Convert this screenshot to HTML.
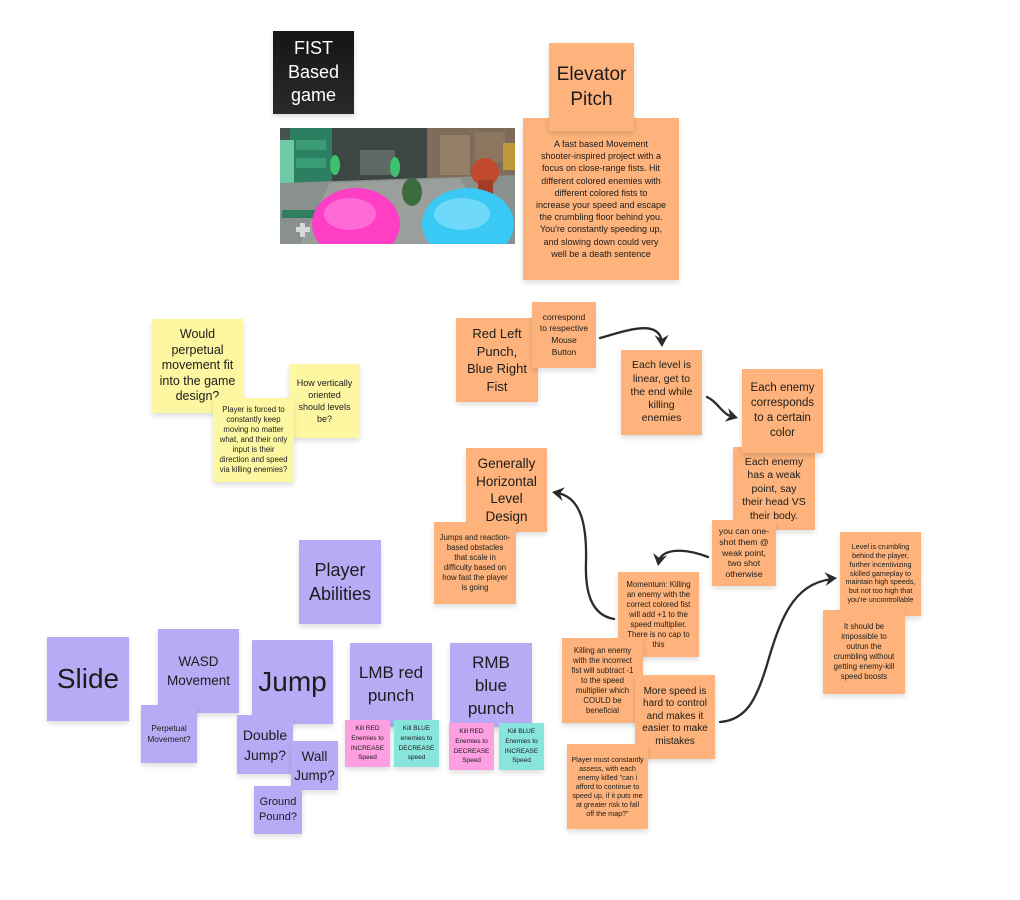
<!DOCTYPE html>
<html><head><meta charset="utf-8"><style>
html,body{margin:0;padding:0;background:#fff;}
body{width:1020px;height:900px;position:relative;overflow:hidden;font-family:"Liberation Sans",sans-serif;color:#1c1c1c;}
.n{position:absolute;display:flex;align-items:center;justify-content:center;text-align:center;box-shadow:0 3px 5px rgba(0,0,0,0.13);box-sizing:border-box;}
.o{background:#fdb37b;}
.y{background:#fef7a2;}
.p{background:#b8abf5;}
.k{background:#fd9fe0;}
.t{background:#88e5dc;}
svg{position:absolute;left:0;top:0;}
</style></head><body>

<!-- FIST -->
<div class="n" style="left:273px;top:31px;width:81px;height:83px;background:linear-gradient(#151515,#2a2a2a);color:#fff;font-size:18px;line-height:23.5px;">FIST<br>Based<br>game</div>

<!-- image -->
<svg width="1020" height="900" style="pointer-events:none">
<defs><clipPath id="ic"><rect x="280" y="128" width="235" height="116"/></clipPath></defs>
<g clip-path="url(#ic)">
<rect x="280" y="128" width="235" height="116" fill="#48524e"/>
<rect x="330" y="128" width="100" height="55" fill="#3c4743"/>
<rect x="427" y="128" width="88" height="55" fill="#7d6c5a"/>
<rect x="440" y="135" width="30" height="40" fill="#957f66"/>
<rect x="475" y="132" width="30" height="30" fill="#8c765f"/>
<rect x="503" y="143" width="12" height="27" fill="#c09a38"/>
<rect x="290" y="128" width="42" height="55" fill="#2d7f62"/>
<rect x="296" y="140" width="30" height="10" fill="#3a9c77"/>
<rect x="296" y="158" width="30" height="10" fill="#3a9c77"/>
<rect x="280" y="140" width="14" height="50" fill="#6fc9a5"/>
<rect x="360" y="150" width="35" height="25" fill="#5e6864"/>
<polygon points="280,183 515,175 515,244 280,244" fill="#8a908d"/>
<polygon points="330,183 460,178 500,244 300,244" fill="#9a9f9c"/>
<rect x="282" y="210" width="40" height="8" fill="#2f7e5f"/>
<ellipse cx="335" cy="165" rx="5" ry="10" fill="#3fbf70"/>
<ellipse cx="395" cy="167" rx="5" ry="10" fill="#3fbf70"/>
<ellipse cx="412" cy="192" rx="10" ry="14" fill="#3c6b3e"/>
<ellipse cx="485" cy="172" rx="14" ry="14" fill="#c24a2c"/>
<rect x="478" y="180" width="15" height="20" fill="#a33d25"/>
<ellipse cx="356" cy="224" rx="44" ry="36" fill="#ff3ec6"/>
<ellipse cx="350" cy="214" rx="26" ry="16" fill="#ff6ad6"/>
<ellipse cx="468" cy="224" rx="46" ry="36" fill="#3ac8f4"/>
<ellipse cx="462" cy="214" rx="28" ry="16" fill="#6fd9fb"/>
<rect x="296" y="227" width="14" height="5" fill="#d8d8d8"/>
<rect x="300" y="223" width="5" height="14" fill="#d8d8d8"/>
</g>
</svg>

<!-- Elevator pitch -->
<div class="n o" style="left:523px;top:118px;width:156px;height:162px;font-size:9px;line-height:12.2px;">A fast based Movement<br>shooter-inspired project with a<br>focus on close-range fists. Hit<br>different colored enemies with<br>different colored fists to<br>increase your speed and escape<br>the crumbling floor behind you.<br>You're constantly speeding up,<br>and slowing down could very<br>well be a death sentence</div>
<div class="n o" style="left:549px;top:43px;width:85px;height:88px;font-size:19px;line-height:25px;">Elevator<br>Pitch</div>

<!-- Yellow -->
<div class="n y" style="left:152px;top:319px;width:91px;height:94px;font-size:12.5px;line-height:15.4px;">Would<br>perpetual<br>movement fit<br>into the game<br>design?</div>
<div class="n y" style="left:289px;top:364px;width:71px;height:74px;font-size:9px;line-height:12px;">How vertically<br>oriented<br>should levels<br>be?</div>
<div class="n y" style="left:213px;top:398px;width:81px;height:84px;font-size:7.8px;line-height:10px;">Player is forced to<br>constantly keep<br>moving no matter<br>what, and their only<br>input is their<br>direction and speed<br>via killing enemies?</div>

<!-- Orange middle -->
<div class="n o" style="left:456px;top:318px;width:82px;height:84px;font-size:13px;line-height:17.5px;">Red Left<br>Punch,<br>Blue Right<br>Fist</div>
<div class="n o" style="left:532px;top:302px;width:64px;height:66px;font-size:8.5px;line-height:11.7px;">correspond<br>to respective<br>Mouse<br>Button</div>
<div class="n o" style="left:621px;top:350px;width:81px;height:85px;font-size:10.5px;line-height:13.3px;">Each level is<br>linear, get to<br>the end while<br>killing<br>enemies</div>
<div class="n o" style="left:733px;top:447px;width:82px;height:83px;font-size:10.5px;line-height:13.5px;padding-top:2px;">Each enemy<br>has a weak<br>point, say<br>their head VS<br>their body.</div>
<div class="n o" style="left:742px;top:369px;width:81px;height:84px;font-size:11.5px;line-height:14.8px;">Each enemy<br>corresponds<br>to a certain<br>color</div>
<div class="n o" style="left:712px;top:520px;width:64px;height:66px;font-size:8.7px;line-height:10.7px;">you can one-<br>shot them @<br>weak point,<br>two shot<br>otherwise</div>
<div class="n o" style="left:466px;top:448px;width:81px;height:84px;font-size:13.5px;line-height:17.5px;">Generally<br>Horizontal<br>Level<br>Design</div>
<div class="n o" style="left:434px;top:522px;width:82px;height:82px;font-size:7.8px;line-height:10px;">Jumps and reaction-<br>based obstacles<br>that scale in<br>difficulty based on<br>how fast the player<br>is going</div>

<!-- Orange lower -->
<div class="n o" style="left:618px;top:572px;width:81px;height:85px;font-size:7.8px;line-height:10px;">Momentum: Killing<br>an enemy with the<br>correct colored fist<br>will add +1 to the<br>speed multiplier.<br>There is no cap to<br>this</div>
<div class="n o" style="left:562px;top:638px;width:81px;height:85px;font-size:7.8px;line-height:10px;">Killing an enemy<br>with the incorrect<br>fist will subtract -1<br>to the speed<br>multiplier which<br>COULD be<br>beneficial</div>
<div class="n o" style="left:635px;top:675px;width:80px;height:84px;font-size:10px;line-height:12.5px;">More speed is<br>hard to control<br>and makes it<br>easier to make<br>mistakes</div>
<div class="n o" style="left:567px;top:744px;width:81px;height:85px;font-size:7.2px;line-height:9px;">Player must constantly<br>assess, with each<br>enemy killed "can i<br>afford to continue to<br>speed up, if it puts me<br>at greater risk to fall<br>off the map?"</div>
<div class="n o" style="left:840px;top:532px;width:81px;height:84px;font-size:7.2px;line-height:8.9px;">Level is crumbling<br>behind the player,<br>further incentivizing<br>skilled gameplay to<br>maintain high speeds,<br>but not too high that<br>you're uncontrollable</div>
<div class="n o" style="left:823px;top:610px;width:82px;height:84px;font-size:7.8px;line-height:10px;">It should be<br>impossible to<br>outrun the<br>crumbling without<br>getting enemy-kill<br>speed boosts</div>

<!-- Purple -->
<div class="n p" style="left:299px;top:540px;width:82px;height:84px;font-size:18px;line-height:24px;">Player<br>Abilities</div>
<div class="n p" style="left:47px;top:637px;width:82px;height:84px;font-size:28px;">Slide</div>
<div class="n p" style="left:158px;top:629px;width:81px;height:84px;font-size:13.5px;line-height:19px;">WASD<br>Movement</div>
<div class="n p" style="left:141px;top:705px;width:56px;height:58px;font-size:8.3px;line-height:10.7px;">Perpetual<br>Movement?</div>
<div class="n p" style="left:252px;top:640px;width:81px;height:84px;font-size:28px;">Jump</div>
<div class="n p" style="left:237px;top:715px;width:56px;height:59px;font-size:14px;line-height:20px;">Double<br>Jump?</div>
<div class="n p" style="left:291px;top:741px;width:47px;height:49px;font-size:13.5px;line-height:19px;">Wall<br>Jump?</div>
<div class="n p" style="left:254px;top:786px;width:48px;height:48px;font-size:11px;line-height:15px;">Ground<br>Pound?</div>
<div class="n p" style="left:350px;top:643px;width:82px;height:84px;font-size:17px;line-height:22.7px;">LMB red<br>punch</div>
<div class="n p" style="left:450px;top:643px;width:82px;height:84px;font-size:17px;line-height:23px;">RMB<br>blue<br>punch</div>
<div class="n k" style="left:345px;top:720px;width:45px;height:47px;font-size:6.5px;line-height:9.6px;">Kill RED<br>Enemies to<br>INCREASE<br>Speed</div>
<div class="n t" style="left:394px;top:720px;width:45px;height:47px;font-size:6.5px;line-height:9.6px;">Kill BLUE<br>enemies to<br>DECREASE<br>speed</div>
<div class="n k" style="left:449px;top:723px;width:45px;height:47px;font-size:6.5px;line-height:9.6px;">Kill RED<br>Enemies to<br>DECREASE<br>Speed</div>
<div class="n t" style="left:499px;top:723px;width:45px;height:47px;font-size:6.5px;line-height:9.6px;">Kill BLUE<br>Enemies to<br>INCREASE<br>Speed</div>

<!-- connectors -->
<svg width="1020" height="900">
<g fill="none" stroke="#2b2b2b" stroke-width="2.3" stroke-linecap="round">
<path d="M600 338 C 625 331, 655 320, 661 338"/>
<path d="M707 397 C 716 401, 721 411, 728 415 L 733 417"/>
<path d="M614 619 C 591 615, 585 592, 586 562 C 587 522, 580 498, 558 493"/>
<path d="M708 557 C 690 550, 668 547, 660 558"/>
<path d="M720 722 C 746 720, 756 700, 766 668 C 780 620, 792 584, 832 579"/>
</g>
<g fill="#2b2b2b">
<polygon points="0,0 -12,-7 -8,0 -12,7" transform="translate(662,347) rotate(88)"/>
<polygon points="0,0 -12,-7 -8,0 -12,7" transform="translate(738,418) rotate(15)"/>
<polygon points="0,0 -12,-7 -8,0 -12,7" transform="translate(552,492) rotate(190)"/>
<polygon points="0,0 -12,-7 -8,0 -12,7" transform="translate(658,566) rotate(100)"/>
<polygon points="0,0 -12,-7 -8,0 -12,7" transform="translate(837,578) rotate(-5)"/>
</g>
</svg>
</body></html>
